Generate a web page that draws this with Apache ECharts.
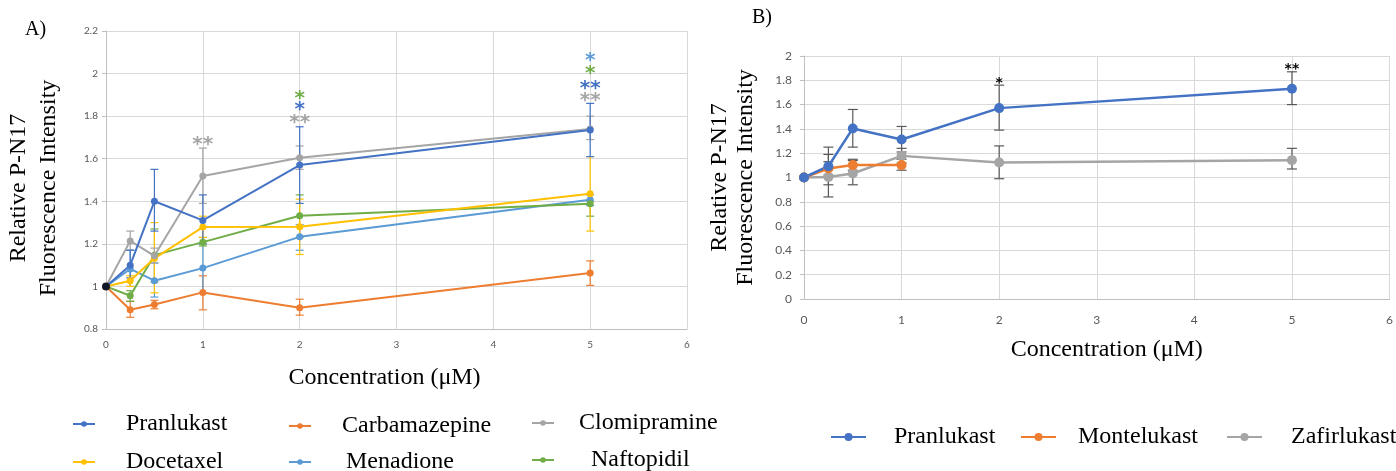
<!DOCTYPE html>
<html>
<head>
<meta charset="utf-8">
<script src="https://cdn.jsdelivr.net/npm/echarts@6/dist/echarts.min.js"></script>
<style>
  html, body { margin: 0; padding: 0; background: #fff; }
  #chart { width: 1396px; height: 471px; }
</style>
</head>
<body>
<div id="chart"></div>
<script>
// concentrations (µM)
const concA = [0, 0.25, 0.5, 1, 2, 5];
const concB = [0, 0.25, 0.5, 1, 2, 5];

// panel A means
const pranlukastA    = [1, 1.10, 1.40, 1.31, 1.57, 1.735];
const carbamazepineA = [1, 0.89, 0.915, 0.972, 0.90, 1.063];
const clomipramineA  = [1, 1.214, 1.144, 1.519, 1.605, 1.74];
const docetaxelA     = [1, 1.027, 1.132, 1.279, 1.28, 1.435];
const menadioneA     = [1, 1.082, 1.027, 1.086, 1.233, 1.407];
const naftopidilA    = [1, 0.956, 1.147, 1.208, 1.332, 1.388];

// panel A error bars [low, high]
const pranlukastErrA    = [null, [1.04, 1.17], [1.26, 1.55], [1.20, 1.43], [1.39, 1.75], [1.61, 1.86]];
const carbamazepineErrA = [null, [0.855, 0.93], [0.895, 0.935], [0.89, 1.05], [0.865, 0.94], [1.005, 1.12]];
const clomipramineErrA  = [null, [1.17, 1.26], [1.11, 1.18], [1.39, 1.65], [1.55, 1.66], [1.69, 1.80]];
const docetaxelErrA     = [null, [1.00, 1.05], [0.97, 1.30], [1.23, 1.33], [1.15, 1.41], [1.26, 1.61]];
const menadioneErrA     = [null, [1.00, 1.17], [0.95, 1.11], [0.97, 1.20], [1.17, 1.29], [1.38, 1.43]];
const naftopidilErrA    = [null, [0.93, 0.98], [1.02, 1.27], [1.19, 1.23], [1.23, 1.43], [1.33, 1.40]];

// panel B means
const pranlukastB  = [1, 1.093, 1.404, 1.313, 1.571, 1.731];
const montelukastB = [1, 1.074, 1.102, 1.102];
const zafirlukastB = [1, 1.005, 1.033, 1.178, 1.124, 1.143];

// panel B error bars [low, high]
const pranlukastErrB  = [null, [0.94, 1.25], [1.25, 1.56], [1.21, 1.42], [1.39, 1.76], [1.60, 1.87]];
const montelukastErrB = [null, [1.02, 1.13], [1.06, 1.15], [1.06, 1.15]];
const zafirlukastErrB = [null, [0.84, 1.19], [0.94, 1.14], [1.12, 1.24], [0.99, 1.26], [1.07, 1.24]];

// significance marks [x, y, text, series]
const starsA = [
  [1, 1.69, '**', 'Clomipramine'],
  [2, 1.907, '*', 'Naftopidil'],
  [2, 1.856, '*', 'Pranlukast'],
  [2, 1.793, '**', 'Clomipramine'],
  [5, 2.084, '*', 'Menadione'],
  [5, 2.025, '*', 'Naftopidil'],
  [5, 1.957, '**', 'Pranlukast'],
  [5, 1.90, '**', 'Clomipramine'],
];
const starsB = [
  [2, 1.807, '*', 'Pranlukast'],
  [5, 1.92, '**', 'Pranlukast'],
];

const COLORS = {
  Pranlukast:    '#4472C4',
  Carbamazepine: '#ED7D31',
  Clomipramine:  '#A5A5A5',
  Docetaxel:     '#FFC000',
  Menadione:     '#5B9BD5',
  Naftopidil:    '#70AD47',
  Montelukast:   '#ED7D31',
  Zafirlukast:   '#A5A5A5',
};

const SERIF = '"Liberation Serif", "Times New Roman", serif';
const SANS = 'Lato, "Open Sans", sans-serif';

function pairs(xs, ys) { return ys.map((y, i) => [xs[i], y]); }
function errData(xs, errs) {
  return errs.map((e, i) => e ? [xs[i], e[0], e[1]] : null).filter(Boolean);
}

function lineSeries(name, xs, ys, idx, size, width) {
  return {
    name, type: 'line', xAxisIndex: idx, yAxisIndex: idx,
    data: pairs(xs, ys), symbol: 'circle', symbolSize: size,
    itemStyle: { color: COLORS[name] }, lineStyle: { color: COLORS[name], width },
    z: 5,
  };
}

function errSeries(name, xs, errs, idx, color, cap) {
  return {
    name: name + ' err', type: 'custom', xAxisIndex: idx, yAxisIndex: idx,
    data: errData(xs, errs), encode: { x: 0, y: [1, 2] }, z: 3, silent: true,
    renderItem: (params, api) => {
      const lo = api.coord([api.value(0), api.value(1)]);
      const hi = api.coord([api.value(0), api.value(2)]);
      const st = { stroke: color, lineWidth: 1.2 };
      return {
        type: 'group', children: [
          { type: 'line', shape: { x1: lo[0], y1: lo[1], x2: hi[0], y2: hi[1] }, style: st },
          { type: 'line', shape: { x1: lo[0] - cap, y1: lo[1], x2: lo[0] + cap, y2: lo[1] }, style: st },
          { type: 'line', shape: { x1: hi[0] - cap, y1: hi[1], x2: hi[0] + cap, y2: hi[1] }, style: st },
        ],
      };
    },
  };
}

function starSeries(stars, idx, size, colorFn) {
  return {
    type: 'custom', xAxisIndex: idx, yAxisIndex: idx, silent: true, z: 10,
    data: stars.map(s => [s[0], s[1]]),
    renderItem: (params, api) => {
      const p = api.coord([api.value(0), api.value(1)]);
      const s = stars[params.dataIndex];
      return {
        type: 'text', x: p[0], y: p[1] + size * 0.28,
        style: {
          text: s[2], fill: colorFn(s[3]), align: 'center', verticalAlign: 'middle',
          font: `bold ${size}px "DejaVu Sans", sans-serif`,
        },
      };
    },
  };
}

function legendItem(name, iconLeft, textLeft, cy, w, h) {
  return {
    data: [name], left: iconLeft, top: cy - 14, itemWidth: w, itemHeight: h,
    padding: 0, selectedMode: false,
    textStyle: {
      fontFamily: SERIF, fontSize: 24, color: '#000',
      padding: [0, 0, 0, textLeft - iconLeft - w - 5],
      lineHeight: 28,
    },
  };
}

function valueAxis(idx, min, max, interval, fontSize) {
  return {
    type: 'value', gridIndex: idx, min, max, interval,
    axisLine: { show: true, lineStyle: { color: '#BFBFBF' } },
    axisTick: { show: true, length: 4, lineStyle: { color: '#BFBFBF' } },
    axisLabel: { color: '#595959', fontFamily: SANS, fontSize, margin: 8 },
    splitLine: { show: true, lineStyle: { color: '#D9D9D9' } },
  };
}

const chart = echarts.init(document.getElementById('chart'));

const NAME_X = 'Concentration (μM)';
const NAME_Y = 'Relative P-N17\nFluorescence Intensity';

const xA = valueAxis(0, 0, 6, 1, 10);
const yA = valueAxis(0, 0.8, 2.2, 0.2, 10);
const xB = valueAxis(1, 0, 6, 1, 12);
const yB = valueAxis(1, 0, 2, 0.2, 12);
xA.axisTick.show = false;
xB.axisTick.show = false;
xA.axisLabel.margin = 11;
xB.axisLabel.margin = 15;
yB.axisLabel.margin = 12;

Object.assign(xA, {
  name: NAME_X, nameLocation: 'middle', nameGap: 37,
  nameTextStyle: { fontFamily: SERIF, fontSize: 24, color: '#000', padding: [0, 24, 0, 0] },
});
Object.assign(xB, {
  name: NAME_X, nameLocation: 'middle', nameGap: 39,
  nameTextStyle: { fontFamily: SERIF, fontSize: 24, color: '#000', padding: [0, 0, 0, 20] },
});
Object.assign(yA, {
  name: NAME_Y, nameLocation: 'middle', nameRotate: 90, nameGap: 42,
  nameTextStyle: { fontFamily: SERIF, fontSize: 24, color: '#000', lineHeight: 30, padding: [0, 16, 0, 0] },
});
Object.assign(yB, {
  name: NAME_Y, nameLocation: 'middle', nameRotate: 90, nameGap: 45,
  nameTextStyle: { fontFamily: SERIF, fontSize: 24, color: '#000', lineHeight: 26 },
});

const errGray = '#595959';

chart.setOption({
  animation: false,
  title: [
    { text: 'A)', left: 25, top: 20, padding: 0, textStyle: { fontFamily: SERIF, fontSize: 20, fontWeight: 'normal', color: '#000' } },
    { text: 'B)', left: 752, top: 8, padding: 0, textStyle: { fontFamily: SERIF, fontSize: 20, fontWeight: 'normal', color: '#000' } },
  ],
  grid: [
    { left: 106, top: 31, width: 581, height: 298 },
    { left: 804, top: 56, width: 587, height: 243 },
  ],
  xAxis: [xA, xB],
  yAxis: [yA, yB],
  legend: [
    legendItem('Pranlukast',    72, 125, 424, 22, 7),
    legendItem('Carbamazepine', 288, 341, 426, 22, 7),
    legendItem('Clomipramine',  531, 578, 423, 22, 7),
    legendItem('Docetaxel',     72, 125, 462, 22, 7),
    legendItem('Menadione',     288, 345, 462, 22, 7),
    legendItem('Naftopidil',    531, 590, 460, 22, 7),
    legendItem('Pranlukast ',   830, 893, 437, 35, 10),
    legendItem('Montelukast',   1020, 1077, 437, 35, 10),
    legendItem('Zafirlukast',   1226, 1290, 437, 35, 10),
  ],
  series: [
    errSeries('Carbamazepine', concA, carbamazepineErrA, 0, COLORS.Carbamazepine, 4),
    errSeries('Menadione', concA, menadioneErrA, 0, COLORS.Menadione, 4),
    errSeries('Naftopidil', concA, naftopidilErrA, 0, COLORS.Naftopidil, 4),
    errSeries('Docetaxel', concA, docetaxelErrA, 0, COLORS.Docetaxel, 4),
    errSeries('Clomipramine', concA, clomipramineErrA, 0, COLORS.Clomipramine, 4),
    errSeries('Pranlukast', concA, pranlukastErrA, 0, COLORS.Pranlukast, 4),
    lineSeries('Carbamazepine', concA, carbamazepineA, 0, 7, 2),
    lineSeries('Menadione', concA, menadioneA, 0, 7, 2),
    lineSeries('Naftopidil', concA, naftopidilA, 0, 7, 2),
    lineSeries('Docetaxel', concA, docetaxelA, 0, 7, 2),
    lineSeries('Clomipramine', concA, clomipramineA, 0, 7, 2),
    lineSeries('Pranlukast', concA, pranlukastA, 0, 7, 2),
    { type: 'scatter', xAxisIndex: 0, yAxisIndex: 0, data: [[concA[0], pranlukastA[0]]],
      symbolSize: 8, itemStyle: { color: '#000' }, z: 8, silent: true },
    starSeries(starsA, 0, 20, n => COLORS[n]),

    errSeries('Zafirlukast', concB, zafirlukastErrB, 1, errGray, 5),
    errSeries('Montelukast', concB, montelukastErrB, 1, errGray, 5),
    errSeries('Pranlukast B', concB, pranlukastErrB, 1, errGray, 5),
    lineSeries('Zafirlukast', concB, zafirlukastB, 1, 10, 2.5),
    lineSeries('Montelukast', concB, montelukastB, 1, 10, 2.5),
    Object.assign(lineSeries('Pranlukast', concB, pranlukastB, 1, 10, 2.5), { name: 'Pranlukast ' }),
    starSeries(starsB, 1, 14, () => '#000'),
  ],
});
</script>
</body>
</html>
